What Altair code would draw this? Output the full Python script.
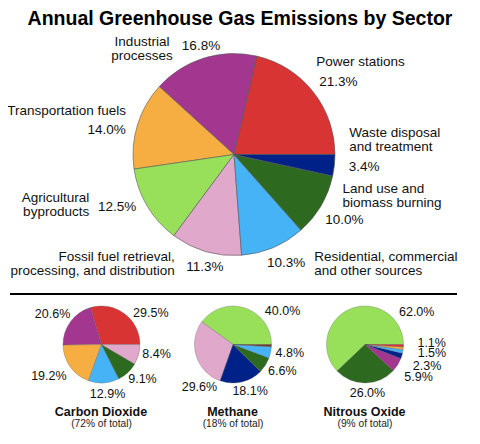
import math
import altair as alt
import pandas as pd

FONT = "Liberation Sans"
PI = math.pi

# ---- data ----
sectors = [
    "Power stations", "Industrial processes", "Transportation fuels",
    "Agricultural byproducts", "Fossil fuel retrieval, processing, and distribution",
    "Residential, commercial, and other sources", "Land use and biomass burning",
    "Waste disposal and treatment", "Other",
]
sector_colors = ["#d93434", "#a3368f", "#f6ae42", "#99e05a", "#e0a9cc",
                 "#46b3f7", "#2d6a1f", "#002288", "#6e3a2a"]

PW, IND, TR, AG, FF, RES, LU, WA, OT = sectors

main_sectors = [PW, IND, TR, AG, FF, RES, LU, WA]
main_values = [21.3, 16.8, 14.0, 12.5, 11.3, 10.3, 10.0, 3.4]
main_names = ["Power stations", "Industrial\nprocesses", "Transportation fuels",
              "Agricultural\nbyproducts", "Fossil fuel retrieval,\nprocessing, and distribution",
              "Residential, commercial\nand other sources", "Land use and\nbiomass burning",
              "Waste disposal\nand treatment"]

co2_sectors = [PW, IND, TR, RES, LU, FF]
co2_values = [29.5, 20.6, 19.2, 12.9, 9.1, 8.4]

ch4_sectors = [AG, FF, WA, LU, RES, OT]
ch4_values = [40.0, 29.6, 18.1, 6.6, 4.8, 0.9]

n2o_sectors = [AG, LU, IND, WA, RES, TR, PW]
n2o_values = [62.0, 26.0, 5.9, 2.3, 1.5, 1.1, 1.0]

gas_titles = ["Carbon Dioxide", "Methane", "Nitrous Oxide"]
gas_shares = ["(72% of total)", "(18% of total)", "(9% of total)"]
chart_title = "Annual Greenhouse Gas Emissions by Sector"


def frame(secs, vals):
    return pd.DataFrame({"sector": secs, "value": vals, "k": list(range(len(secs)))})


color_enc = alt.Color("sector:N", scale=alt.Scale(domain=sectors, range=sector_colors), legend=None)
theta_enc = alt.Theta("value:Q", stack=True, scale=alt.Scale(range=[PI / 2, PI / 2 + 2 * PI]))
order_enc = alt.Order("k:Q", sort="descending")


def pie(df, cx, cy, r, sw):
    return alt.Chart(df).mark_arc(outerRadius=r, stroke="#555555", strokeWidth=sw).encode(
        theta=theta_enc, order=order_enc, color=color_enc,
        x=alt.value(cx), y=alt.value(cy))


def label(df, cx, cy, sec, text, radius, dx=0, dy=0, align="center", size=13.5):
    return alt.Chart(df).mark_text(
        radius=radius, dx=dx, dy=dy, align=align, baseline="middle", fontSize=size,
        font=FONT, lineBreak="\n", lineHeight=14, color="#111111").encode(
        theta=theta_enc, order=order_enc,
        x=alt.value(cx), y=alt.value(cy),
        text=alt.condition(f"datum.sector === '{sec}'", alt.value(text), alt.value("")))


def pct(v):
    return f"{v:.1f}%"


layers = []

# ---- main pie ----
mdf = frame(main_sectors, main_values)
MX, MY, MR = 226, 146.5, 101
layers.append(pie(mdf, MX, MY, MR, 0.6))
main_pct_pos = [(127, 5, 7), (114, 1, 0), (130, -3, 13), (128, -7, -13),
                (116, 3, 1), (121, 5, -3), (128, 0, 1), (131, 0, -2)]
main_name_pos = [(127, 27, -13, "center"), (114, -58, -4, "center"), (130, -43, -6, "center"),
                 (128, -35, -22, "right"), (116, -27, -9, "right"), (121, 33, -9, "left"),
                 (128, -2, -30, "left"), (131, -15, -36, "left")]
for s, v, nm, pp, npos in zip(main_sectors, main_values, main_names, main_pct_pos, main_name_pos):
    layers.append(label(mdf, MX, MY, s, pct(v), pp[0], pp[1], pp[2]))
    layers.append(label(mdf, MX, MY, s, nm, npos[0], npos[1], npos[2], npos[3]))

# ---- small pies ----
SY, SR = 336.5, 38.5
small = [
    (co2_sectors, co2_values, 93.5,
     [(59, 14, 16), (57, -3, 3), (61, -3, -4), (50, 3, 0), (54, 4, -5), (56, 1, -5)]),
    (ch4_sectors, ch4_values, 225,
     [(60, 31, 24), (54, 18, 26), (49, 6, -1), (56, 2, -4), (57, 1, -3), None]),
    (n2o_sectors, n2o_values, 357,
     [(60, 74, 23), (49, 2, 0), (62, 1, 0), (65, 0, 2), (67, 1, -3), (67, 0, -8), None]),
]
for (secs, vals, cx, poss), gt, gs in zip(small, gas_titles, gas_shares):
    df = frame(secs, vals)
    layers.append(pie(df, cx, SY, SR, 0.3))
    for s, v, p in zip(secs, vals, poss):
        if p is None:
            continue
        layers.append(label(df, cx, SY, s, pct(v), p[0], p[1], p[2], size=12.5))
    tdf = pd.DataFrame({"t": [gt], "s": [gs]})
    layers.append(alt.Chart(tdf).mark_text(font=FONT, fontSize=12.5, fontWeight="bold",
                                           baseline="middle", color="#111111").encode(
        text="t:N", x=alt.value(cx - 0.5), y=alt.value(404)))
    layers.append(alt.Chart(tdf).mark_text(font=FONT, fontSize=10.2,
                                           baseline="middle", color="#222222").encode(
        text="s:N", x=alt.value(cx), y=alt.value(416)))

# ---- title and separator ----
ttl = pd.DataFrame({"t": [chart_title]})
layers.append(alt.Chart(ttl).mark_text(font=FONT, fontSize=19.5, fontWeight="bold",
                                       baseline="middle", color="#000000").encode(
    text="t:N", x=alt.value(232), y=alt.value(10.5)))
layers.append(alt.Chart(ttl).mark_rule(color="#000000", strokeWidth=2).encode(
    x=alt.value(2), x2=alt.value(449), y=alt.value(286)))

chart = alt.layer(*layers).resolve_scale(theta="independent").properties(
    width=464, height=428, padding=0, autosize=alt.AutoSizeParams(type="none"),
    background="white",
).configure_view(stroke=None)

chart.save("out.html", embed_options={"renderer": "svg", "actions": False})
